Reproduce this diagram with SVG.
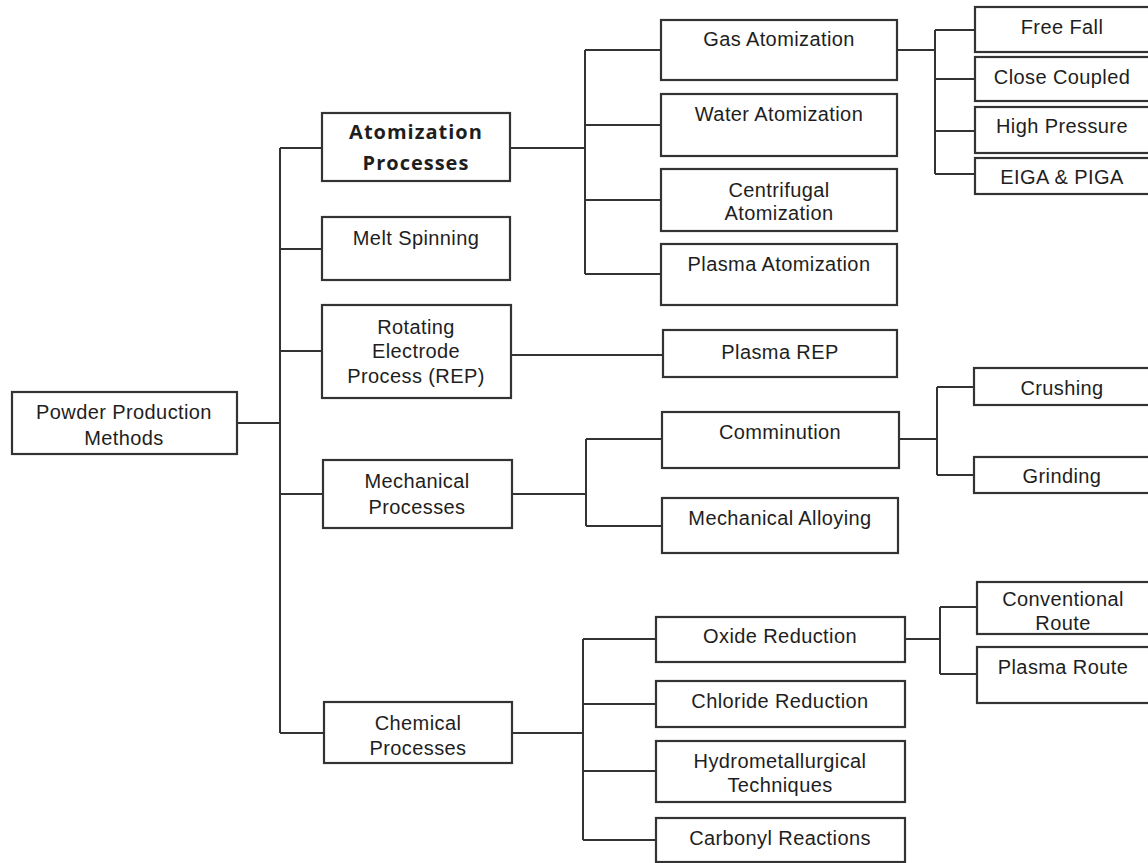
<svg xmlns="http://www.w3.org/2000/svg" width="1148" height="863" viewBox="0 0 1148 863">
<style>
.b{fill:#fff;stroke:#333;stroke-width:2.2}
.c{fill:none;stroke:#333;stroke-width:2}
text{font-family:"Liberation Sans",Arial,sans-serif;font-size:20px;letter-spacing:0.4px;fill:#1e1e1e;text-anchor:middle}
.bold{font-family:"Open Sans","DejaVu Sans",sans-serif;font-weight:bold;font-size:20px;letter-spacing:1px}
</style>
<rect width="1148" height="863" fill="#fff"/>
<g id="connectors">
<path class="c" d="M237 423H280M280 148V733M280 148H322M280 249H322M280 351H322M280 494H323M280 733H324"/>
<path class="c" d="M510 148H585M585 50V274M585 50H661M585 125H661M585 200H661M585 274H661"/>
<path class="c" d="M897 50H935M935 30V174M935 30H975M935 79H975M935 131H975M935 174H975"/>
<path class="c" d="M511 355H663"/>
<path class="c" d="M512 494H586M586 439V526M586 439H662M586 526H662"/>
<path class="c" d="M899 439H937M937 387V475M937 387H974M937 475H974"/>
<path class="c" d="M512 733H583M583 639V840M583 639H656M583 704H656M583 771H656M583 840H656"/>
<path class="c" d="M905 639H940M940 607V674M940 607H977M940 674H977"/>
</g>
<g id="root"><rect class="b" x="12" y="392" width="225" height="62"/><text x="124" y="419">Powder Production</text><text x="124" y="445">Methods</text></g>
<g id="atomization"><rect class="b" x="322" y="113" width="188" height="68"/><text class="bold" x="416" y="139">Atomization</text><text class="bold" x="416" y="170">Processes</text></g>
<g id="melt"><rect class="b" x="322" y="217" width="188" height="63"/><text x="416" y="245">Melt Spinning</text></g>
<g id="rep"><rect class="b" x="322" y="305" width="189" height="93"/><text x="416" y="334">Rotating</text><text x="416" y="358">Electrode</text><text x="416" y="383">Process (REP)</text></g>
<g id="mechanical"><rect class="b" x="323" y="460" width="189" height="68"/><text x="417" y="488">Mechanical</text><text x="417" y="514">Processes</text></g>
<g id="chemical"><rect class="b" x="324" y="702" width="188" height="61"/><text x="418" y="730">Chemical</text><text x="418" y="755">Processes</text></g>
<g id="gas"><rect class="b" x="661" y="20" width="236" height="60"/><text x="779" y="46">Gas Atomization</text></g>
<g id="water"><rect class="b" x="661" y="94" width="236" height="62"/><text x="779" y="121">Water Atomization</text></g>
<g id="centrifugal"><rect class="b" x="661" y="169" width="236" height="62"/><text x="779" y="197">Centrifugal</text><text x="779" y="220">Atomization</text></g>
<g id="plasma-atom"><rect class="b" x="661" y="244" width="236" height="61"/><text x="779" y="271">Plasma Atomization</text></g>
<g id="plasma-rep"><rect class="b" x="663" y="330" width="234" height="47"/><text x="780" y="359">Plasma REP</text></g>
<g id="comminution"><rect class="b" x="662" y="412" width="237" height="56"/><text x="780" y="439">Comminution</text></g>
<g id="mech-alloy"><rect class="b" x="662" y="498" width="236" height="55"/><text x="780" y="525">Mechanical Alloying</text></g>
<g id="oxide"><rect class="b" x="656" y="617" width="249" height="45"/><text x="780" y="643">Oxide Reduction</text></g>
<g id="chloride"><rect class="b" x="656" y="681" width="249" height="46"/><text x="780" y="708">Chloride Reduction</text></g>
<g id="hydro"><rect class="b" x="656" y="741" width="249" height="61"/><text x="780" y="768">Hydrometallurgical</text><text x="780" y="792">Techniques</text></g>
<g id="carbonyl"><rect class="b" x="656" y="818" width="249" height="44"/><text x="780" y="845">Carbonyl Reactions</text></g>
<g id="freefall"><rect class="b" x="975" y="7" width="180" height="45"/><text x="1062" y="34">Free Fall</text></g>
<g id="closecoupled"><rect class="b" x="975" y="57" width="180" height="44"/><text x="1062" y="84">Close Coupled</text></g>
<g id="highpressure"><rect class="b" x="975" y="107" width="180" height="46"/><text x="1062" y="133">High Pressure</text></g>
<g id="eiga"><rect class="b" x="975" y="158" width="180" height="36"/><text x="1062" y="184">EIGA &amp; PIGA</text></g>
<g id="crushing"><rect class="b" x="974" y="368" width="181" height="37"/><text x="1062" y="395">Crushing</text></g>
<g id="grinding"><rect class="b" x="974" y="457" width="181" height="36"/><text x="1062" y="483">Grinding</text></g>
<g id="conventional"><rect class="b" x="977" y="582" width="178" height="52"/><text x="1063" y="606">Conventional</text><text x="1063" y="630">Route</text></g>
<g id="plasmaroute"><rect class="b" x="977" y="647" width="178" height="56"/><text x="1063" y="674">Plasma Route</text></g>
</svg>
